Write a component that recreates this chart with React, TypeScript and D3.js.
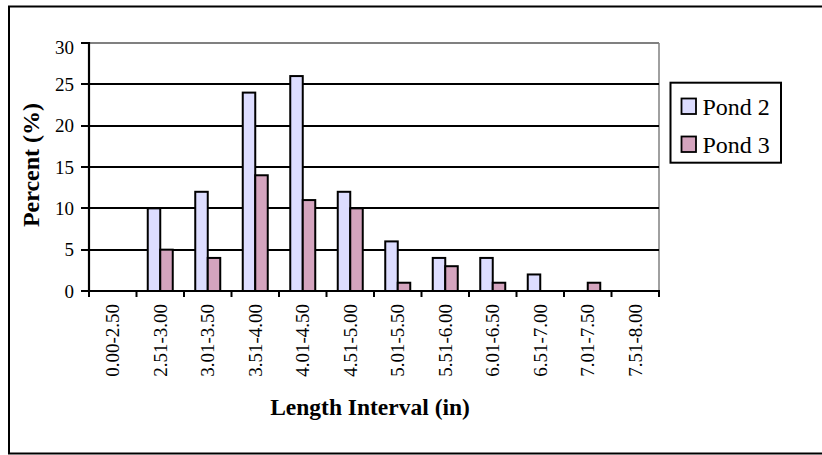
import React from "react";
import * as d3 from "d3";

const categories = [
  "0.00-2.50", "2.51-3.00", "3.01-3.50", "3.51-4.00", "4.01-4.50", "4.51-5.00",
  "5.01-5.50", "5.51-6.00", "6.01-6.50", "6.51-7.00", "7.01-7.50", "7.51-8.00",
];
const seriesNames = ["Pond 2", "Pond 3"];
const pond2 = [0, 10, 12, 24, 26, 12, 6, 4, 4, 2, 0, 0];
const pond3 = [0, 5, 4, 14, 11, 10, 1, 3, 1, 0, 1, 0];
const yTicks = [0, 5, 10, 15, 20, 25, 30];
const colors = ["#DDDDFF", "#D4A4BE"];

const FONT = "'Liberation Serif'";

export default function App() {
  const W = 822, H = 455;
  const left = 89, right = 659, top = 43, bottom = 291;

  const x0 = d3.scaleBand<string>().domain(categories).range([left, right]).padding(0);
  const x1 = d3.scaleBand<string>().domain(seriesNames).range([0, x0.bandwidth()]).paddingInner(0).paddingOuter(0.9);
  const y = d3.scaleLinear().domain([0, 30]).range([bottom, top]);
  const data = [pond2, pond3];
  const ry = (t: number) => Math.round(y(t));

  const tickPositions = categories.map((c) => x0(c)!).concat([right]);
  const ts = { fontFamily: FONT };

  return (
    <svg width={W} height={H} style={{ position: "absolute", left: 0, top: 0, background: "#fff", fontFamily: FONT }}>
      {/* outer border */}
      <rect x={9} y={6.5} width={840} height={447} fill="#fff" stroke="#000" strokeWidth={2} />

      {/* plot area border (grey) */}
      <line x1={left} x2={right} y1={ry(30)} y2={ry(30)} stroke="#808080" strokeWidth={2} />
      <line x1={right} x2={right} y1={ry(30)} y2={bottom} stroke="#808080" strokeWidth={1.5} />

      {/* gridlines */}
      {yTicks.filter((t) => t > 0 && t < 30).map((t) => (
        <line key={t} x1={left} x2={right} y1={ry(t)} y2={ry(t)} stroke="#000" strokeWidth={2} />
      ))}

      {/* bars */}
      {data.map((vals, si) =>
        vals.map((v, i) =>
          v > 0 ? (
            <rect
              key={`${si}-${i}`}
              x={x0(categories[i])! + x1(seriesNames[si])!}
              y={y(v)}
              width={x1.bandwidth()}
              height={bottom - y(v)}
              fill={colors[si]}
              stroke="#000"
              strokeWidth={2}
            />
          ) : null
        )
      )}

      {/* y axis */}
      <line x1={left} x2={left} y1={ry(30) - 1} y2={bottom} stroke="#000" strokeWidth={2.2} />
      {yTicks.map((t) => (
        <g key={t}>
          <line x1={left - 8} x2={left} y1={ry(t)} y2={ry(t)} stroke="#000" strokeWidth={2} />
          <text x={74} y={y(t) + (t === 30 ? 4 : 0)} dy="0.35em" textAnchor="end" fontSize={19} fill="#000" style={ts}>{t}</text>
        </g>
      ))}

      {/* x axis */}
      <line x1={left - 8} x2={right + 1} y1={bottom} y2={bottom} stroke="#000" strokeWidth={2.2} />
      {tickPositions.map((p, i) => (
        <line key={i} x1={p} x2={p} y1={bottom} y2={bottom + 6} stroke="#000" strokeWidth={2} />
      ))}
      {categories.map((c) => {
        const cx = x0(c)! + x0.bandwidth() / 2;
        const ty = 304;
        return (
          <text key={c} transform={`translate(${cx},${ty}) rotate(-90)`} dy="0.35em" textAnchor="end" fontSize={19} fill="#000" style={ts}>
            {c}
          </text>
        );
      })}

      {/* axis titles */}
      <text x={(left + right) / 2 - 4} y={415} textAnchor="middle" fontSize={23.5} fontWeight="bold" fill="#000" style={ts}>
        Length Interval (in)
      </text>
      <text transform={`translate(39,${(top + bottom) / 2 - 2}) rotate(-90)`} textAnchor="middle" fontSize={24} fontWeight="bold" fill="#000" style={ts}>
        Percent (%)
      </text>

      {/* legend */}
      <rect x={670.5} y={82.7} width={110.5} height={80} fill="#fff" stroke="#000" strokeWidth={2} />
      {seriesNames.map((s, i) => (
        <g key={s}>
          <rect x={681.5} y={98.5 + i * 38} width={14.5} height={15.5} fill={colors[i]} stroke="#000" strokeWidth={1.8} />
          <text x={702.5} y={115 + i * 38} fontSize={24} fill="#000" style={ts}>{s}</text>
        </g>
      ))}
    </svg>
  );
}
